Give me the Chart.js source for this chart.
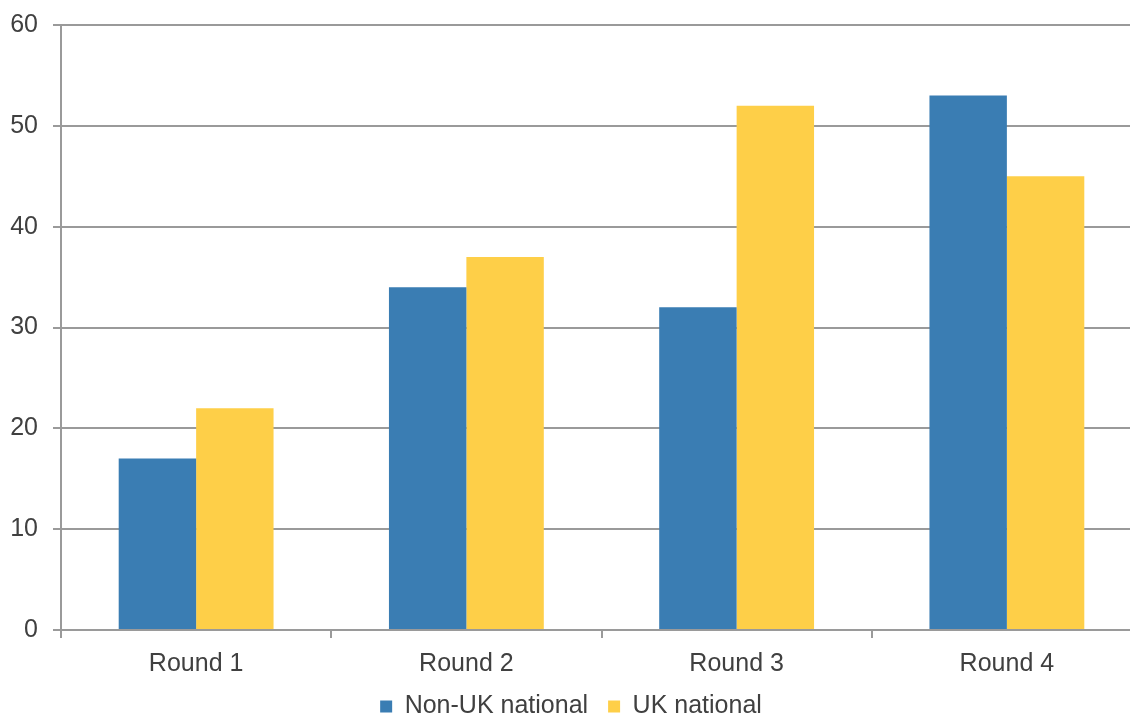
<!DOCTYPE html>
<html><head><meta charset="utf-8">
<script src="https://cdn.jsdelivr.net/npm/chart.js@4/dist/chart.umd.min.js"></script>
<style>html,body{margin:0;padding:0;overflow:hidden;background:#fff;width:1130px;height:716px}
#wrap{position:absolute;left:0;top:0;width:1145px;height:729px}</style>
</head><body>
<div id="wrap"><canvas id="c" width="1145" height="729"></canvas></div>
<script>
const categories = ["Round 1", "Round 2", "Round 3", "Round 4"];
const nonUK = [17, 34, 32, 53];
const uk = [22, 37, 52, 45];
const yTicks = [0, 10, 20, 30, 40, 50, 60];

const gridColor = '#9a9a9a';
const textColor = '#404040';
const font = {family: 'Liberation Sans, Arial, sans-serif', size: 25};
const yFont = {family: 'Liberation Sans, Arial, sans-serif', size: 25, lineHeight: 0.5};

new Chart(document.getElementById('c'), {
  type: 'bar',
  data: {
    labels: categories,
    datasets: [
      {label: 'Non-UK national', data: nonUK, backgroundColor: '#3a7db3', borderWidth: 0},
      {label: 'UK national', data: uk, backgroundColor: '#fecf48', borderWidth: 0}
    ]
  },
  options: {
    responsive: false,
    animation: false,
    devicePixelRatio: 1,
    layout: {padding: {top: 25, right: 3, left: 0, bottom: 0}},
    categoryPercentage: 0.573,
    barPercentage: 1,
    plugins: {
      legend: {
        position: 'bottom',
        labels: {font: font, color: textColor, boxWidth: 12, boxHeight: 12, padding: 20}
      },
      tooltip: {enabled: false}
    },
    scales: {
      x: {
        clip: false,
        afterFit: (ax) => { ax.height = 44; },
        grid: {drawOnChartArea: false, drawTicks: true, tickLength: 8, color: gridColor, lineWidth: 2, offset: true},
        border: {color: gridColor, width: 2},
        ticks: {font: font, color: textColor, padding: 11}
      },
      y: {
        min: 0, max: 60,
        clip: false,
        afterBuildTicks: (ax) => { ax.ticks = yTicks.map(v => ({value: v})); },
        afterFit: (ax) => { ax.width = 61; },
        grid: {color: gridColor, lineWidth: 2, tickLength: 8},
        border: {color: gridColor, width: 2},
        ticks: {font: yFont, color: textColor, padding: 15}
      }
    }
  }
});
</script>
</body></html>
